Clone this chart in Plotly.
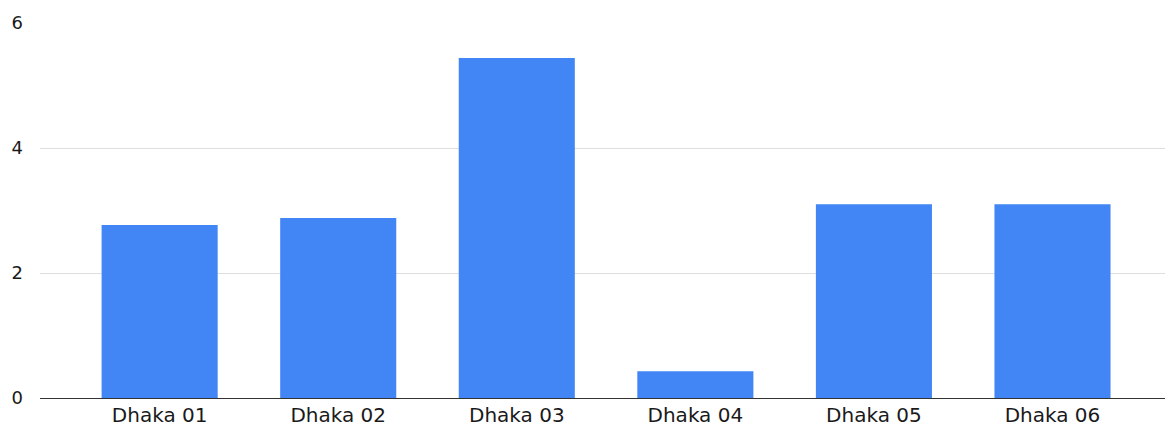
import plotly.graph_objects as go

# Constituency names and their values
constituencies = ["Dhaka 01", "Dhaka 02", "Dhaka 03", "Dhaka 04", "Dhaka 05", "Dhaka 06"]
values = [2.77, 2.88, 5.44, 0.43, 3.10, 3.10]

y_ticks = [0, 2, 4, 6]

fig = go.Figure(
    go.Bar(
        x=constituencies,
        y=values,
        marker=dict(color="#4285F4", line=dict(width=0)),
        width=0.65,
        hoverinfo="x+y",
    )
)

fig.update_layout(
    width=1165,
    height=428,
    margin=dict(l=40, r=0, t=23, b=30),
    paper_bgcolor="white",
    plot_bgcolor="white",
    showlegend=False,
    font=dict(family="DejaVu Sans, Arial, sans-serif", color="#1a1a1a"),
    bargap=0.35,
)

fig.update_xaxes(
    type="category",
    range=[-0.67, 5.63],
    showgrid=False,
    showline=False,
    ticks="",
    ticklabelstandoff=3,
    tickfont=dict(size=20, color="#1a1a1a"),
)

fig.update_yaxes(
    range=[0, 6],
    tickvals=y_ticks,
    ticktext=[str(v) for v in y_ticks],
    showgrid=True,
    gridcolor="#dedede",
    gridwidth=1,
    zeroline=True,
    zerolinecolor="#333333",
    zerolinewidth=1,
    showline=False,
    ticks="",
    ticklabelstandoff=16,
    tickfont=dict(size=18, color="#1a1a1a"),
)

fig.write_html("out.html")
